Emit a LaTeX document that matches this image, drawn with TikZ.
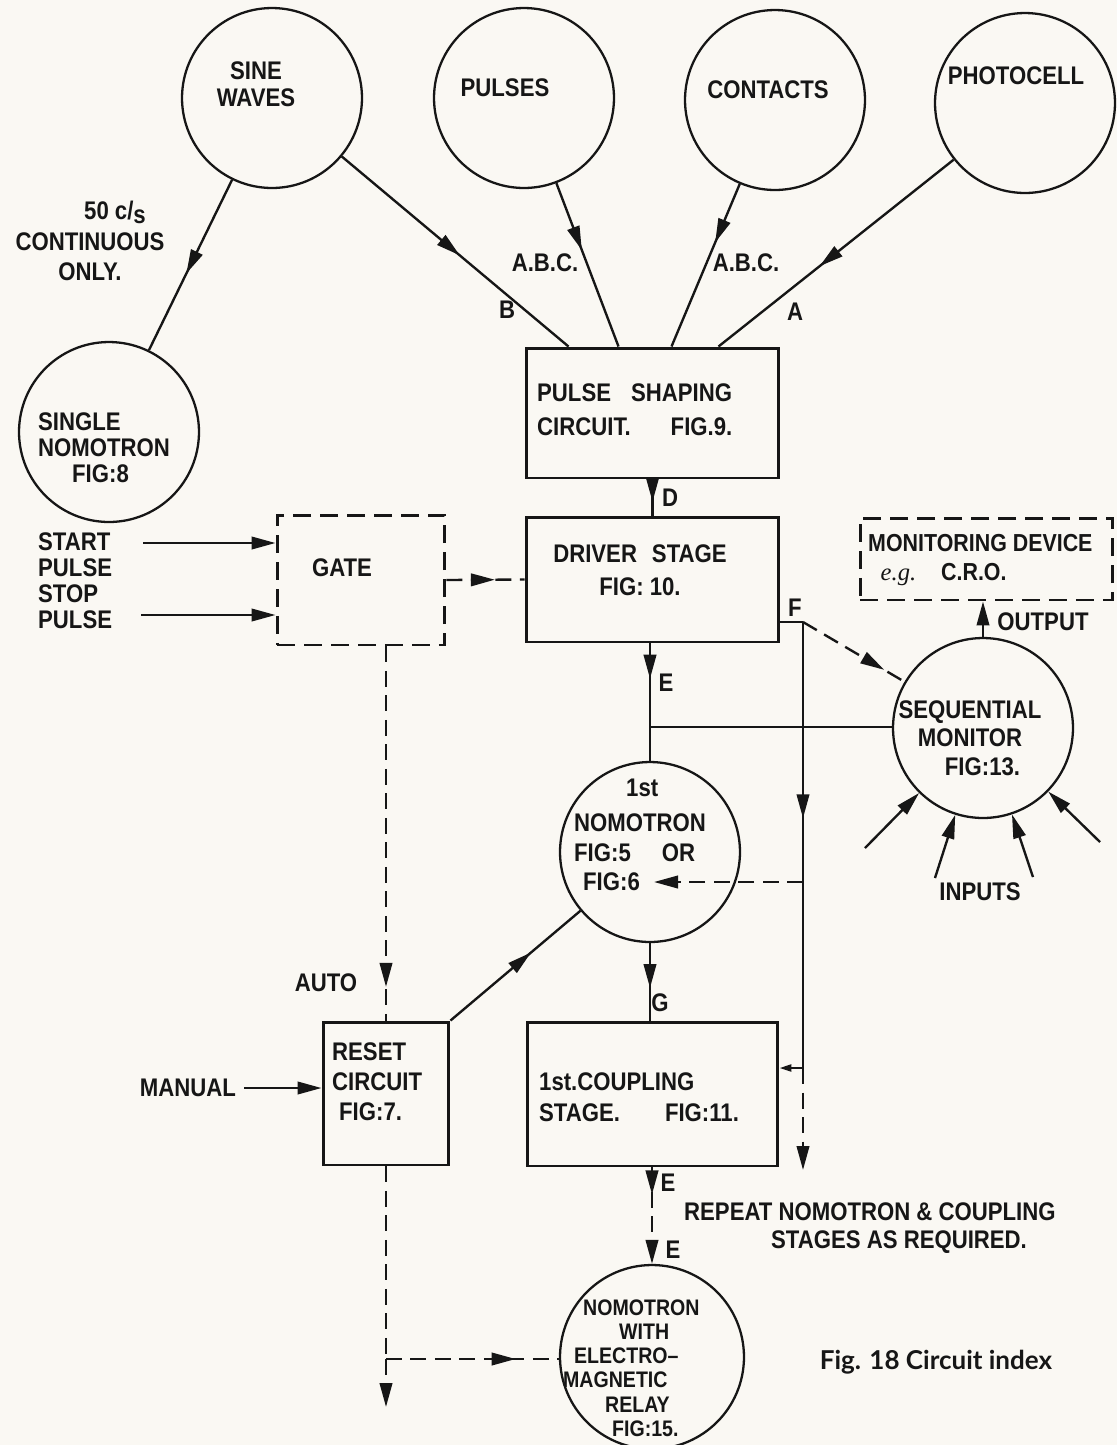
\documentclass[tikz,border=0pt]{standalone}
\usepackage{fontspec}
\setmainfont{Liberation Sans}
\newfontfamily\lettering{Liberation Sans}[UprightFont={* Bold},FakeStretch=0.87]
\newfontfamily\egfont{Liberation Serif}
\newfontfamily\capfont{Lato}
\usetikzlibrary{arrows.meta,decorations.markings}
\definecolor{paper}{RGB}{250,248,243}
\definecolor{ink}{RGB}{22,22,22}
\begin{document}
\begin{tikzpicture}
  [x=0.02cm,y=-0.02cm,line width=1.35pt,color=ink,
   >={Triangle[length=4.8mm,width=2.5mm]},
   circ/.style={circle,draw,line width=1.3pt,minimum size=3.6cm,inner sep=0pt},
   blk/.style={rectangle,draw,line width=1.7pt,inner sep=0pt},
   dashblk/.style={blk,dash pattern=on 0.36cm off 0.18cm},
   dsh/.style={dash pattern=on 0.32cm off 0.17cm},
   lbl/.style={font=\lettering\fontsize{14.5}{#1}\selectfont,inner sep=0pt},
   lbl/.default=17,
   midarr/.style={postaction={decorate,decoration={markings,
      mark=at position #1 with {\arrow{>}}}}}]
  \fill[paper] (0,0) rectangle (1117,1445);
  \useasboundingbox (0,0) rectangle (1117,1445);

  % sources
  \node[circ] (sine) at (272,98) {};
  \node[circ] (pulses) at (524,98) {};
  \node[circ] (contacts) at (775,100) {};
  \node[circ] (photo) at (1025,103) {};
  \node[circ] (single) at (109,432) {};
  \node[lbl=15.4,align=center] (sinetxt) at (256,84) {SINE\\WAVES};
  \node[lbl] (pulsestxt) at (505,88) {PULSES};
  \node[lbl] (contactstxt) at (768,90) {CONTACTS};
  \node[lbl] (phototxt) at (1016,76) {PHOTOCELL};
  \node[lbl=14.8,align=left,anchor=west] (singletxt) at (37,448)
    {SINGLE\\NOMOTRON\\\hspace*{0.68cm}FIG:8};
  \node[lbl=17.5,align=center] (cstxt) at (90,241)
    {\hspace*{1cm}50 c/\raisebox{-0.3ex}{s}\\CONTINUOUS\\ONLY.};

  % main chain
  \node[blk,minimum width=5.06cm,minimum height=2.6cm] (psc) at (652.5,413) {};
  \node[lbl=19.4,align=left,anchor=west] (psctxt) at (536,410)
    {PULSE\hspace{0.4cm}SHAPING\\CIRCUIT.\hspace{0.8cm}FIG.9.};
  \node[blk,minimum width=5.06cm,minimum height=2.5cm] (drv) at (652.5,579.5) {};
  \node[lbl=19,align=center] (drvtxt) at (640,570) {DRIVER\hspace{0.3cm}STAGE\\FIG: 10.};
  \node[dashblk,minimum width=3.36cm,minimum height=2.6cm] (gate) at (361,580) {};
  \node[lbl] (gatetxt) at (342,568) {GATE};
  \node[lbl=14.8,align=left,anchor=west] (startstop) at (37,581)
    {START\\PULSE\\STOP\\PULSE};
  \node[dashblk,minimum width=5.06cm,minimum height=1.64cm] (mon) at (986.5,559) {};
  \node[font=\lettering\fontsize{14}{16.5}\selectfont,inner sep=0pt,align=left,anchor=west] (montxt) at (867,560)
    {MONITORING DEVICE\\\hspace*{0.25cm}{\egfont\itshape e.g.}\hspace{0.5cm}C.R.O.};
  \node[circ] (seqmon) at (983,728) {};
  \node[lbl=16.2,align=center] (seqtxt) at (970,738)
    {SEQUENTIAL\\MONITOR\\\hspace*{0.5cm}FIG:13.};
  \node[lbl] (outtxt) at (1043,622) {OUTPUT};
  \node[lbl] (inputstxt) at (980,892) {INPUTS};
  \node[circ] (n1) at (650,852) {};
  \node[lbl=17,align=left,anchor=west] (n1txt) at (573,835)
    {\hspace*{1.04cm}1st\\[0.1cm]NOMOTRON\\FIG:5\hspace{0.62cm}OR\\\hspace*{0.18cm}FIG:6};
  \node[blk,minimum width=2.52cm,minimum height=2.86cm] (rst) at (386,1093.5) {};
  \node[lbl=17,align=left,anchor=west] (rsttxt) at (331,1082)
    {RESET\\CIRCUIT\\\hspace*{0.14cm}FIG:7.};
  \node[lbl] (autotxt) at (326,983) {AUTO};
  \node[lbl] (mantxt) at (188,1088) {MANUAL};
  \node[blk,minimum width=5.02cm,minimum height=2.88cm] (cpl) at (652.5,1094) {};
  \node[lbl=17.6,align=left,anchor=west] (cpltxt) at (538,1097)
    {1st.COUPLING\\STAGE.\hspace{0.9cm}FIG:11.};
  \node[lbl=16,align=left,anchor=west] (reptxt) at (683,1228)
    {REPEAT NOMOTRON \& COUPLING\\\hspace*{1.74cm}STAGES AS REQUIRED.};
  \node[circ,minimum size=3.68cm] (n2) at (652,1357) {};
  \node[font=\lettering\fontsize{12.8}{13.8}\selectfont,inner sep=0pt,align=left,anchor=west] (n2txt) at (562,1368)
    {\hspace*{0.4cm}NOMOTRON\\\hspace*{1.12cm}WITH\\\hspace*{0.22cm}ELECTRO–\\MAGNETIC\\\hspace*{0.84cm}RELAY\\\hspace*{0.98cm}FIG:15.};
  \node[font=\capfont\bfseries\fontsize{14.8}{17}\selectfont,inner sep=0pt] (cap) at (936,1362)
    {Fig. 18 Circuit index};

  % letters on the lines
  \node[lbl] (lb) at (507,310) {B};
  \node[lbl] (la) at (795,312) {A};
  \node[lbl] (labc1) at (545,263) {A.B.C.};
  \node[lbl] (labc2) at (746,263) {A.B.C.};
  \node[lbl] (ld) at (670,498) {D};
  \node[lbl] (le1) at (666,683) {E};
  \node[lbl] (lf) at (795,608) {F};
  \node[lbl] (lg) at (660,1003) {G};
  \node[lbl] (le2) at (668,1183) {E};
  \node[lbl] (le3) at (673,1250) {E};

  \coordinate (startin) at (143,543);
  \coordinate (stopin) at (141,615);
  \coordinate (ej) at (650,727);
  \coordinate (f) at (803,622);
  \coordinate (fc) at (803,1068);
  \coordinate (f6) at (803,882);
  \coordinate (fig6) at (654,882);
  \coordinate (fend) at (803,1170);
  \coordinate (rj) at (386,1359);
  \coordinate (rend) at (386,1407);
  \coordinate (in1) at (865,848);
  \coordinate (in2) at (935,878);
  \coordinate (in3) at (1033,877);
  \coordinate (in4) at (1100,842);

  \draw[midarr=0.55] (sine) -- (single);
  \draw[midarr=0.52] (sine) -- ([xshift=0.88cm]psc.north west);
  \draw[midarr=0.41] (pulses) -- ([xshift=1.88cm]psc.north west);
  \draw[midarr=0.36] (contacts) -- ([xshift=2.94cm]psc.north west);
  \draw[midarr=0.57] (photo) -- ([xshift=3.88cm]psc.north west);
  \draw[midarr=0.62] (psc) -- (drv);
  \draw[->] (startin) -- (startin -| gate.west);
  \draw[->] (stopin) -- (stopin -| gate.west);
  \draw[dsh,midarr=0.62] (gate.east) -- (drv.west);
  \draw[midarr=0.3] (drv.south -| n1.north) -- (n1.north);
  \draw (ej) -- (ej -| seqmon.west);
  \draw (f -| drv.east) -- (f);
  \draw[midarr=0.44] (f) -- (fc);
  \draw[-{Triangle[length=2.4mm,width=1.4mm]}] (fc) -- (fc -| cpl.east);
  \draw[dsh,->] (fc) -- (fend);
  \draw[dsh,midarr=0.8] (f) -- (seqmon);
  \draw[dsh,->] (f6) -- (fig6);
  \draw[->] (seqmon.north) -- (seqmon.north |- mon.south);
  \draw[->] (in1) -- (seqmon);
  \draw[->] (in2) -- (seqmon);
  \draw[->] (in3) -- (seqmon);
  \draw[->] (in4) -- (seqmon);
  \draw[midarr=0.58] (n1.south) -- (n1.south |- cpl.north);
  \draw[midarr=0.62] (rst.north east) -- (n1);
  \draw[dsh,midarr=0.91] (gate.south -| rst.north) -- (rst.north);
  \draw[->] ([xshift=0.14cm]mantxt.east) -- (rst.west |- mantxt);
  \draw[dsh] (rst.south) -- (rj);
  \draw[dsh,->] (rj) -- (rend);
  \draw[dsh,midarr=0.75] (rj) -- (rj -| n2.west);
  \draw[dsh,midarr=0.28,->] (cpl.south -| n2.north) -- (n2.north);
\end{tikzpicture}
\end{document}
